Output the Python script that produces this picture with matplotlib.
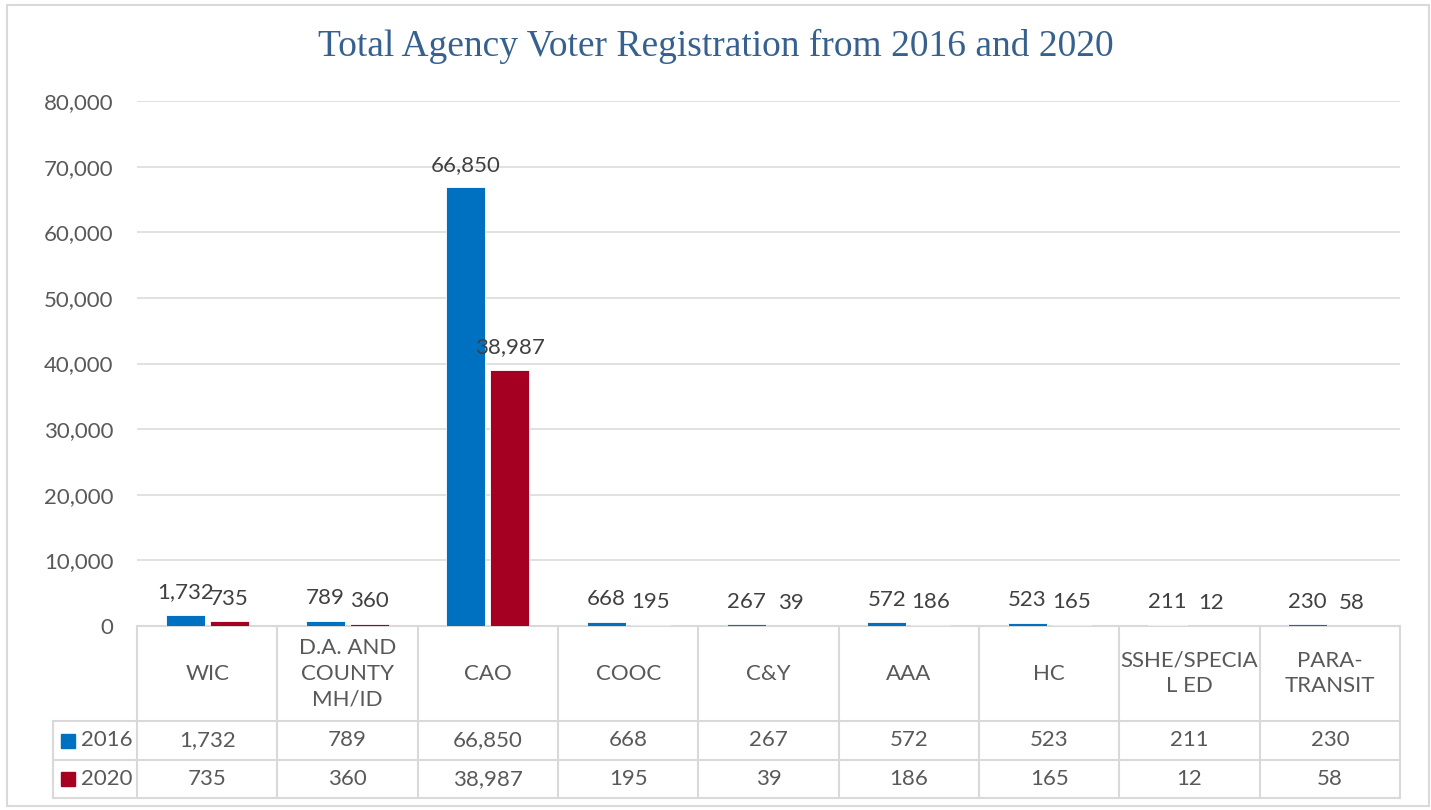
"""
Total agency voter registration, 2016 vs 2020, bar chart with a data table underneath
"""
import matplotlib.pyplot as plt
from matplotlib.patches import Rectangle
from matplotlib.ticker import FuncFormatter

agencies = ["WIC", "D.A. AND\nCOUNTY\nMH/ID", "CAO", "COOC", "C&Y", "AAA", "HC",
            "SSHE/SPECIA\nL ED", "PARA-\nTRANSIT"]
series_names = ["2016", "2020"]
reg_2016 = [1732, 789, 66850, 668, 267, 572, 523, 211, 230]
reg_2020 = [735, 360, 38987, 195, 39, 186, 165, 12, 58]
y_ticks = [0, 10000, 20000, 30000, 40000, 50000, 60000, 70000, 80000]

blue = "#0070C0"
red = "#A50021"
grid_col = "#D9D9D9"
text_col = "#595959"
label_col = "#404040"
fs = 16

plt.rcParams['font.family'] = ['Lato', 'DejaVu Sans']

W, H = 1431, 810
fig = plt.figure(figsize=(W / 100, H / 100), dpi=100)

# plot area in pixels
px_left, px_right, px_top, px_bottom = 137, 1400, 101, 626
ax = fig.add_axes([px_left / W, 1 - px_bottom / H,
                   (px_right - px_left) / W, (px_bottom - px_top) / H])

n = len(agencies)
x = list(range(n))
bw = 0.278
off = 0.157
bars1 = ax.bar([i - off for i in x], reg_2016, bw, color=blue, edgecolor="white", linewidth=0.6, zorder=3)
bars2 = ax.bar([i + off for i in x], reg_2020, bw, color=red, edgecolor="white", linewidth=0.6, zorder=3)

for bars, vals in ((bars1, reg_2016), (bars2, reg_2020)):
    for b, v in zip(bars, vals):
        ax.annotate(f"{v:,}", (b.get_x() + b.get_width() / 2, v), xytext=(0, 12),
                    textcoords="offset points", ha="center", va="baseline",
                    fontsize=fs, color=label_col)

ax.set_xlim(-0.5, n - 0.5)
ax.set_ylim(0, 80000)
ax.set_yticks(y_ticks)
ax.yaxis.set_major_formatter(FuncFormatter(lambda v, p: f"{v:,.0f}"))
ax.set_xticks([])
ax.tick_params(axis="y", length=0, pad=17, labelsize=fs, labelcolor=text_col)
ax.grid(axis="y", color=grid_col, linewidth=1.1, zorder=0)
for s in ("top", "right", "left"):
    ax.spines[s].set_visible(False)
ax.spines["bottom"].set_color(grid_col)
ax.spines["bottom"].set_linewidth(1.5)

# ---- data table below the plot ----
tr = ax.get_xaxis_transform()
ax_h = px_bottom - px_top
cat_w = (px_right - px_left) / n


def fy(py):
    return (px_bottom - py) / ax_h


def fx(px):
    return (px - px_left) / cat_w - 0.5


row_lines = [626, 721, 760, 798]
x_left_col = fx(53)
line_kw = dict(color=grid_col, linewidth=1.5, transform=tr, clip_on=False)

for py in row_lines[1:]:
    ax.plot([x_left_col, n - 0.5], [fy(py), fy(py)], **line_kw)
for i in range(n + 1):
    ax.plot([i - 0.5, i - 0.5], [fy(626), fy(798)], **line_kw)
ax.plot([x_left_col, x_left_col], [fy(721), fy(798)], **line_kw)

hdr_y = fy((626 + 721) / 2)
r1_y = fy((721 + 760) / 2)
r2_y = fy((760 + 798) / 2)
for i, name in enumerate(agencies):
    ax.text(i, hdr_y, name, transform=tr, ha="center", va="center",
            fontsize=fs, color=text_col, linespacing=1.36)
    ax.text(i, r1_y, f"{reg_2016[i]:,}", transform=tr, ha="center", va="center",
            fontsize=fs, color=text_col)
    ax.text(i, r2_y, f"{reg_2020[i]:,}", transform=tr, ha="center", va="center",
            fontsize=fs, color=text_col)

for name, col, ry in ((series_names[0], blue, r1_y), (series_names[1], red, r2_y)):
    ax.plot([fx(68)], [ry], marker="s", markersize=10, color=col, transform=tr, clip_on=False)
    ax.text(fx(81), ry, name, transform=tr, ha="left", va="center", fontsize=fs, color=text_col)

# title and chart border
fig.text(0.5, 1 - 46 / H, "Total Agency Voter Registration from 2016 and 2020",
         ha="center", va="center", fontsize=27, color="#36618F",
         family=["Liberation Serif", "DejaVu Serif"])
fig.patches.append(Rectangle((7 / W, 1 - 806 / H), (1429 - 7) / W, (806 - 5) / H,
                             transform=fig.transFigure, fill=False,
                             edgecolor=grid_col, linewidth=1.5))

fig.savefig("out.png", dpi=100)
